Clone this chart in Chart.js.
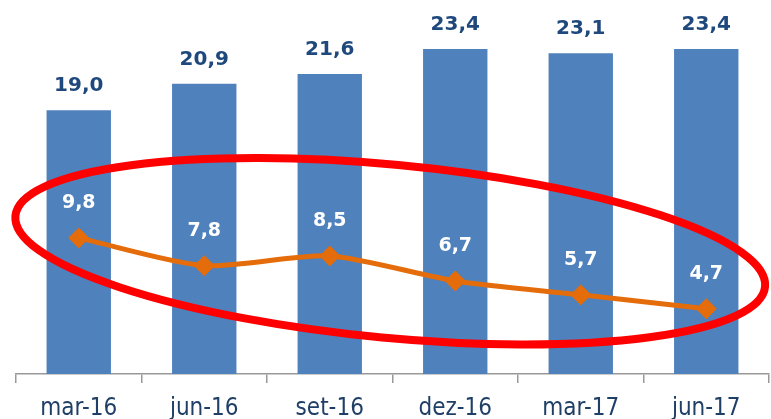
<!DOCTYPE html>
<html>
<head>
<meta charset="utf-8">
<script src="https://cdn.jsdelivr.net/npm/chart.js@4.4.0/dist/chart.umd.min.js"></script>
<style>
  html, body { margin: 0; padding: 0; background: #fff; overflow: hidden; }
  #wrap { width: 771px; height: 419px; overflow: hidden; }
</style>
</head>
<body>
<div id="wrap"><canvas id="chart" width="780" height="435"></canvas></div>
<script>
const categories = ['mar-16', 'jun-16', 'set-16', 'dez-16', 'mar-17', 'jun-17'];
const barValues = [19.0, 20.9, 21.6, 23.4, 23.1, 23.4];
const lineValues = [9.8, 7.8, 8.5, 6.7, 5.7, 4.7];

const fmt = v => v.toFixed(1).replace('.', ',');

// value labels above bars and line points
const valueLabels = {
  id: 'valueLabels',
  afterDatasetsDraw(chart) {
    const ctx = chart.ctx;
    ctx.save();
    ctx.textAlign = 'center';
    ctx.textBaseline = 'middle';

    const barMeta = chart.getDatasetMeta(0);
    ctx.font = 'bold 20px "DejaVu Sans"';
    ctx.fillStyle = '#1F497D';
    barMeta.data.forEach((el, i) => {
      ctx.fillText(fmt(barValues[i]), el.x, el.y - 24);
    });

    const lineMeta = chart.getDatasetMeta(1);
    ctx.font = 'bold 19px "DejaVu Sans"';
    ctx.fillStyle = '#ffffff';
    lineMeta.data.forEach((el, i) => {
      ctx.fillText(fmt(lineValues[i]), el.x, el.y - 35);
    });
    ctx.restore();
  }
};

// red hand-drawn style ellipse around the line
const highlight = {
  id: 'highlight',
  afterDatasetsDraw(chart) {
    const { ctx, chartArea } = chart;
    const w = chartArea.right - chartArea.left;
    const h = chartArea.bottom - chartArea.top;
    const cx = chartArea.left + w * 0.497;
    const cy = chartArea.top + h * 0.66;
    ctx.save();
    ctx.beginPath();
    ctx.ellipse(cx, cy, w * 0.5, h * 0.24, 5.4 * Math.PI / 180, 0, Math.PI * 2);
    ctx.strokeStyle = '#FF0000';
    ctx.lineWidth = 8;
    ctx.stroke();
    ctx.restore();
  }
};

new Chart(document.getElementById('chart'), {
  data: {
    labels: categories,
    datasets: [{
      type: 'bar',
      data: barValues,
      backgroundColor: '#4F81BD',
      barPercentage: 0.513,
      categoryPercentage: 1,
      order: 1
    }, {
      type: 'line',
      data: lineValues,
      borderColor: '#E46C0A',
      borderWidth: 5,
      tension: 0.25,
      pointStyle: 'rectRot',
      pointRadius: 10,
      pointBackgroundColor: '#E46C0A',
      pointBorderColor: '#E46C0A',
      pointBorderWidth: 1,
      order: 0
    }]
  },
  options: {
    responsive: false,
    animation: false,
    layout: { padding: { left: 16, right: 4, top: 13, bottom: 0 } },
    plugins: {
      legend: { display: false },
      tooltip: { enabled: false }
    },
    scales: {
      x: {
        grid: {
          drawOnChartArea: false,
          drawTicks: true,
          tickLength: 9,
          color: '#999999',
          lineWidth: 1.5
        },
        border: { display: true, color: '#999999', width: 1.5 },
        ticks: {
          color: '#1F3F66',
          padding: 14,
          font: { family: '"DejaVu Sans Condensed", "DejaVu Sans"', size: 24, lineHeight: 1 }
        }
      },
      y: {
        display: false,
        min: 0,
        max: 26
      }
    }
  },
  plugins: [highlight, valueLabels]
});
</script>
</body>
</html>
